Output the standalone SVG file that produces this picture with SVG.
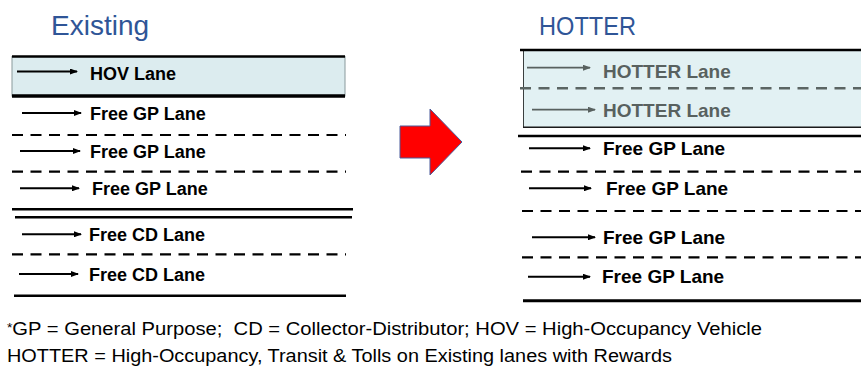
<svg xmlns="http://www.w3.org/2000/svg" width="861" height="368" viewBox="0 0 861 368">
  <style>
    .title { font-family: "Liberation Sans", Arial, sans-serif; fill: #2f5597; }
    .lbl { font-family: "Liberation Sans", Arial, sans-serif; font-weight: bold; font-size: 18px; fill: #000; }
    .lblr { font-family: "Liberation Sans", Arial, sans-serif; font-weight: bold; font-size: 19px; fill: #000; }
    .hot { fill: #58615f; }
    .foot { font-family: "Liberation Sans", Arial, sans-serif; font-size: 17.5px; fill: #000; }
    .solid { stroke: #000; stroke-width: 2.6; fill: none; }
    .dash { stroke: #000; stroke-width: 2.2; stroke-dasharray: 11 7.5; fill: none; }
    .dashg { stroke: #5b6563; stroke-width: 2.4; stroke-dasharray: 11 7.5; fill: none; }
    .arr { stroke: #000; stroke-width: 2; fill: none; marker-end: url(#ah); }
    .arrg { stroke: #58615f; stroke-width: 1.8; fill: none; marker-end: url(#ahg); }
  </style>
  <defs>
    <marker id="ah" viewBox="0 0 8 6" refX="7" refY="3" markerWidth="8" markerHeight="6" markerUnits="userSpaceOnUse" orient="auto">
      <path d="M0,0 L8,3 L0,6 Z" fill="#000"/>
    </marker>
    <marker id="ahg" viewBox="0 0 8 6" refX="7" refY="3" markerWidth="8" markerHeight="6" markerUnits="userSpaceOnUse" orient="auto">
      <path d="M0,0 L8,3 L0,6 Z" fill="#58615f"/>
    </marker>
  </defs>
  <rect width="861" height="368" fill="#fff"/>

  <!-- Titles -->
  <text id="title-existing" class="title" x="51" y="35" font-size="28">Existing</text>
  <text id="title-hotter" class="title" x="539" y="35" font-size="25" textLength="97" lengthAdjust="spacingAndGlyphs">HOTTER</text>

  <!-- Left road: Existing -->
  <g id="existing-road">
    <rect x="12" y="56.5" width="333" height="39.5" fill="#dcecef" stroke="#8a9a9c" stroke-width="1"/>
    <line class="solid" x1="12" y1="56.5" x2="345" y2="56.5"/>
    <line class="solid" x1="12" y1="96" x2="345" y2="96" style="stroke-width:3.4"/>
    <line class="dash" x1="12" y1="135" x2="346" y2="135"/>
    <line class="dash" x1="12" y1="171.7" x2="346" y2="171.7"/>
    <line class="solid" x1="12" y1="209.3" x2="353" y2="209.3"/>
    <line class="solid" x1="15" y1="217.3" x2="352" y2="217.3"/>
    <line class="dash" x1="12" y1="254.3" x2="346" y2="254.3"/>
    <line class="solid" x1="14" y1="295.7" x2="346" y2="295.7"/>
  </g>

  <g id="lane-hov">
    <line class="arr" x1="17" y1="71.5" x2="77" y2="71.5"/>
    <text class="lbl" x="90" y="79.5">HOV Lane</text>
  </g>
  <g id="lane-gp1">
    <line class="arr" x1="22" y1="113" x2="81" y2="113"/>
    <text class="lbl" x="90" y="119.5">Free GP Lane</text>
  </g>
  <g id="lane-gp2">
    <line class="arr" x1="20" y1="151" x2="80" y2="151"/>
    <text class="lbl" x="90" y="157.5">Free GP Lane</text>
  </g>
  <g id="lane-gp3">
    <line class="arr" x1="20" y1="188.3" x2="79" y2="188.3"/>
    <text class="lbl" x="92" y="194.8">Free GP Lane</text>
  </g>
  <g id="lane-cd1">
    <line class="arr" x1="22" y1="234.3" x2="81" y2="234.3"/>
    <text class="lbl" x="89" y="240.8">Free CD Lane</text>
  </g>
  <g id="lane-cd2">
    <line class="arr" x1="19" y1="274" x2="78" y2="274"/>
    <text class="lbl" x="89" y="280.5">Free CD Lane</text>
  </g>

  <!-- Red transition arrow -->
  <g id="transition-arrow">
    <path d="M400,126 L430,126 L430,109 L462,142 L430,175 L430,158 L400,158 Z" fill="#ff0000" stroke="#4a5a9a" stroke-width="1"/>
  </g>

  <!-- Right road: HOTTER -->
  <g id="hotter-road">
    <rect x="523.5" y="50" width="338" height="77.3" fill="#e2f1f3" stroke="none"/>
    <line x1="523.5" y1="50" x2="523.5" y2="127.3" stroke="#3a3f3f" stroke-width="1"/>
    <line class="solid" x1="520" y1="50" x2="861" y2="50"/>
    <line class="dashg" x1="520" y1="88.3" x2="861" y2="88.3"/>
    <line x1="523" y1="127.3" x2="861" y2="127.3" stroke="#1a1a1a" stroke-width="1.6"/>
    <line class="solid" x1="518" y1="136" x2="861" y2="136"/>
    <line class="dash" x1="521" y1="171.7" x2="861" y2="171.7"/>
    <line class="dash" x1="522" y1="211" x2="861" y2="211"/>
    <line class="dash" x1="522" y1="257.3" x2="861" y2="257.3"/>
    <line class="solid" x1="523" y1="300.7" x2="861" y2="300.7" style="stroke-width:3"/>
  </g>

  <g id="lane-hotter1">
    <line class="arrg" x1="527" y1="67.7" x2="590" y2="67.7"/>
    <text class="lblr hot" x="603" y="77.5">HOTTER Lane</text>
  </g>
  <g id="lane-hotter2">
    <line class="arrg" x1="532" y1="109.7" x2="595" y2="109.7"/>
    <text class="lblr hot" x="603" y="117">HOTTER Lane</text>
  </g>
  <g id="lane-rgp1">
    <line class="arr" x1="529" y1="148.3" x2="590" y2="148.3"/>
    <text class="lblr" x="603" y="155">Free GP Lane</text>
  </g>
  <g id="lane-rgp2">
    <line class="arr" x1="529" y1="188.3" x2="591" y2="188.3"/>
    <text class="lblr" x="606" y="195">Free GP Lane</text>
  </g>
  <g id="lane-rgp3">
    <line class="arr" x1="532" y1="237.3" x2="595" y2="237.3"/>
    <text class="lblr" x="603" y="244">Free GP Lane</text>
  </g>
  <g id="lane-rgp4">
    <line class="arr" x1="528" y1="276.7" x2="590" y2="276.7"/>
    <text class="lblr" x="602" y="283.4">Free GP Lane</text>
  </g>

  <!-- Footnotes -->
  <text id="footnote1" class="foot" x="7" y="335" textLength="755" lengthAdjust="spacingAndGlyphs"><tspan font-size="12" dy="-3">*</tspan><tspan dy="3">GP = General Purpose;&#160; CD = Collector-Distributor; HOV = High-Occupancy Vehicle</tspan></text>
  <text id="footnote2" class="foot" x="7" y="362" textLength="665" lengthAdjust="spacingAndGlyphs">HOTTER = High-Occupancy, Transit &amp; Tolls on Existing lanes with Rewards</text>
</svg>
